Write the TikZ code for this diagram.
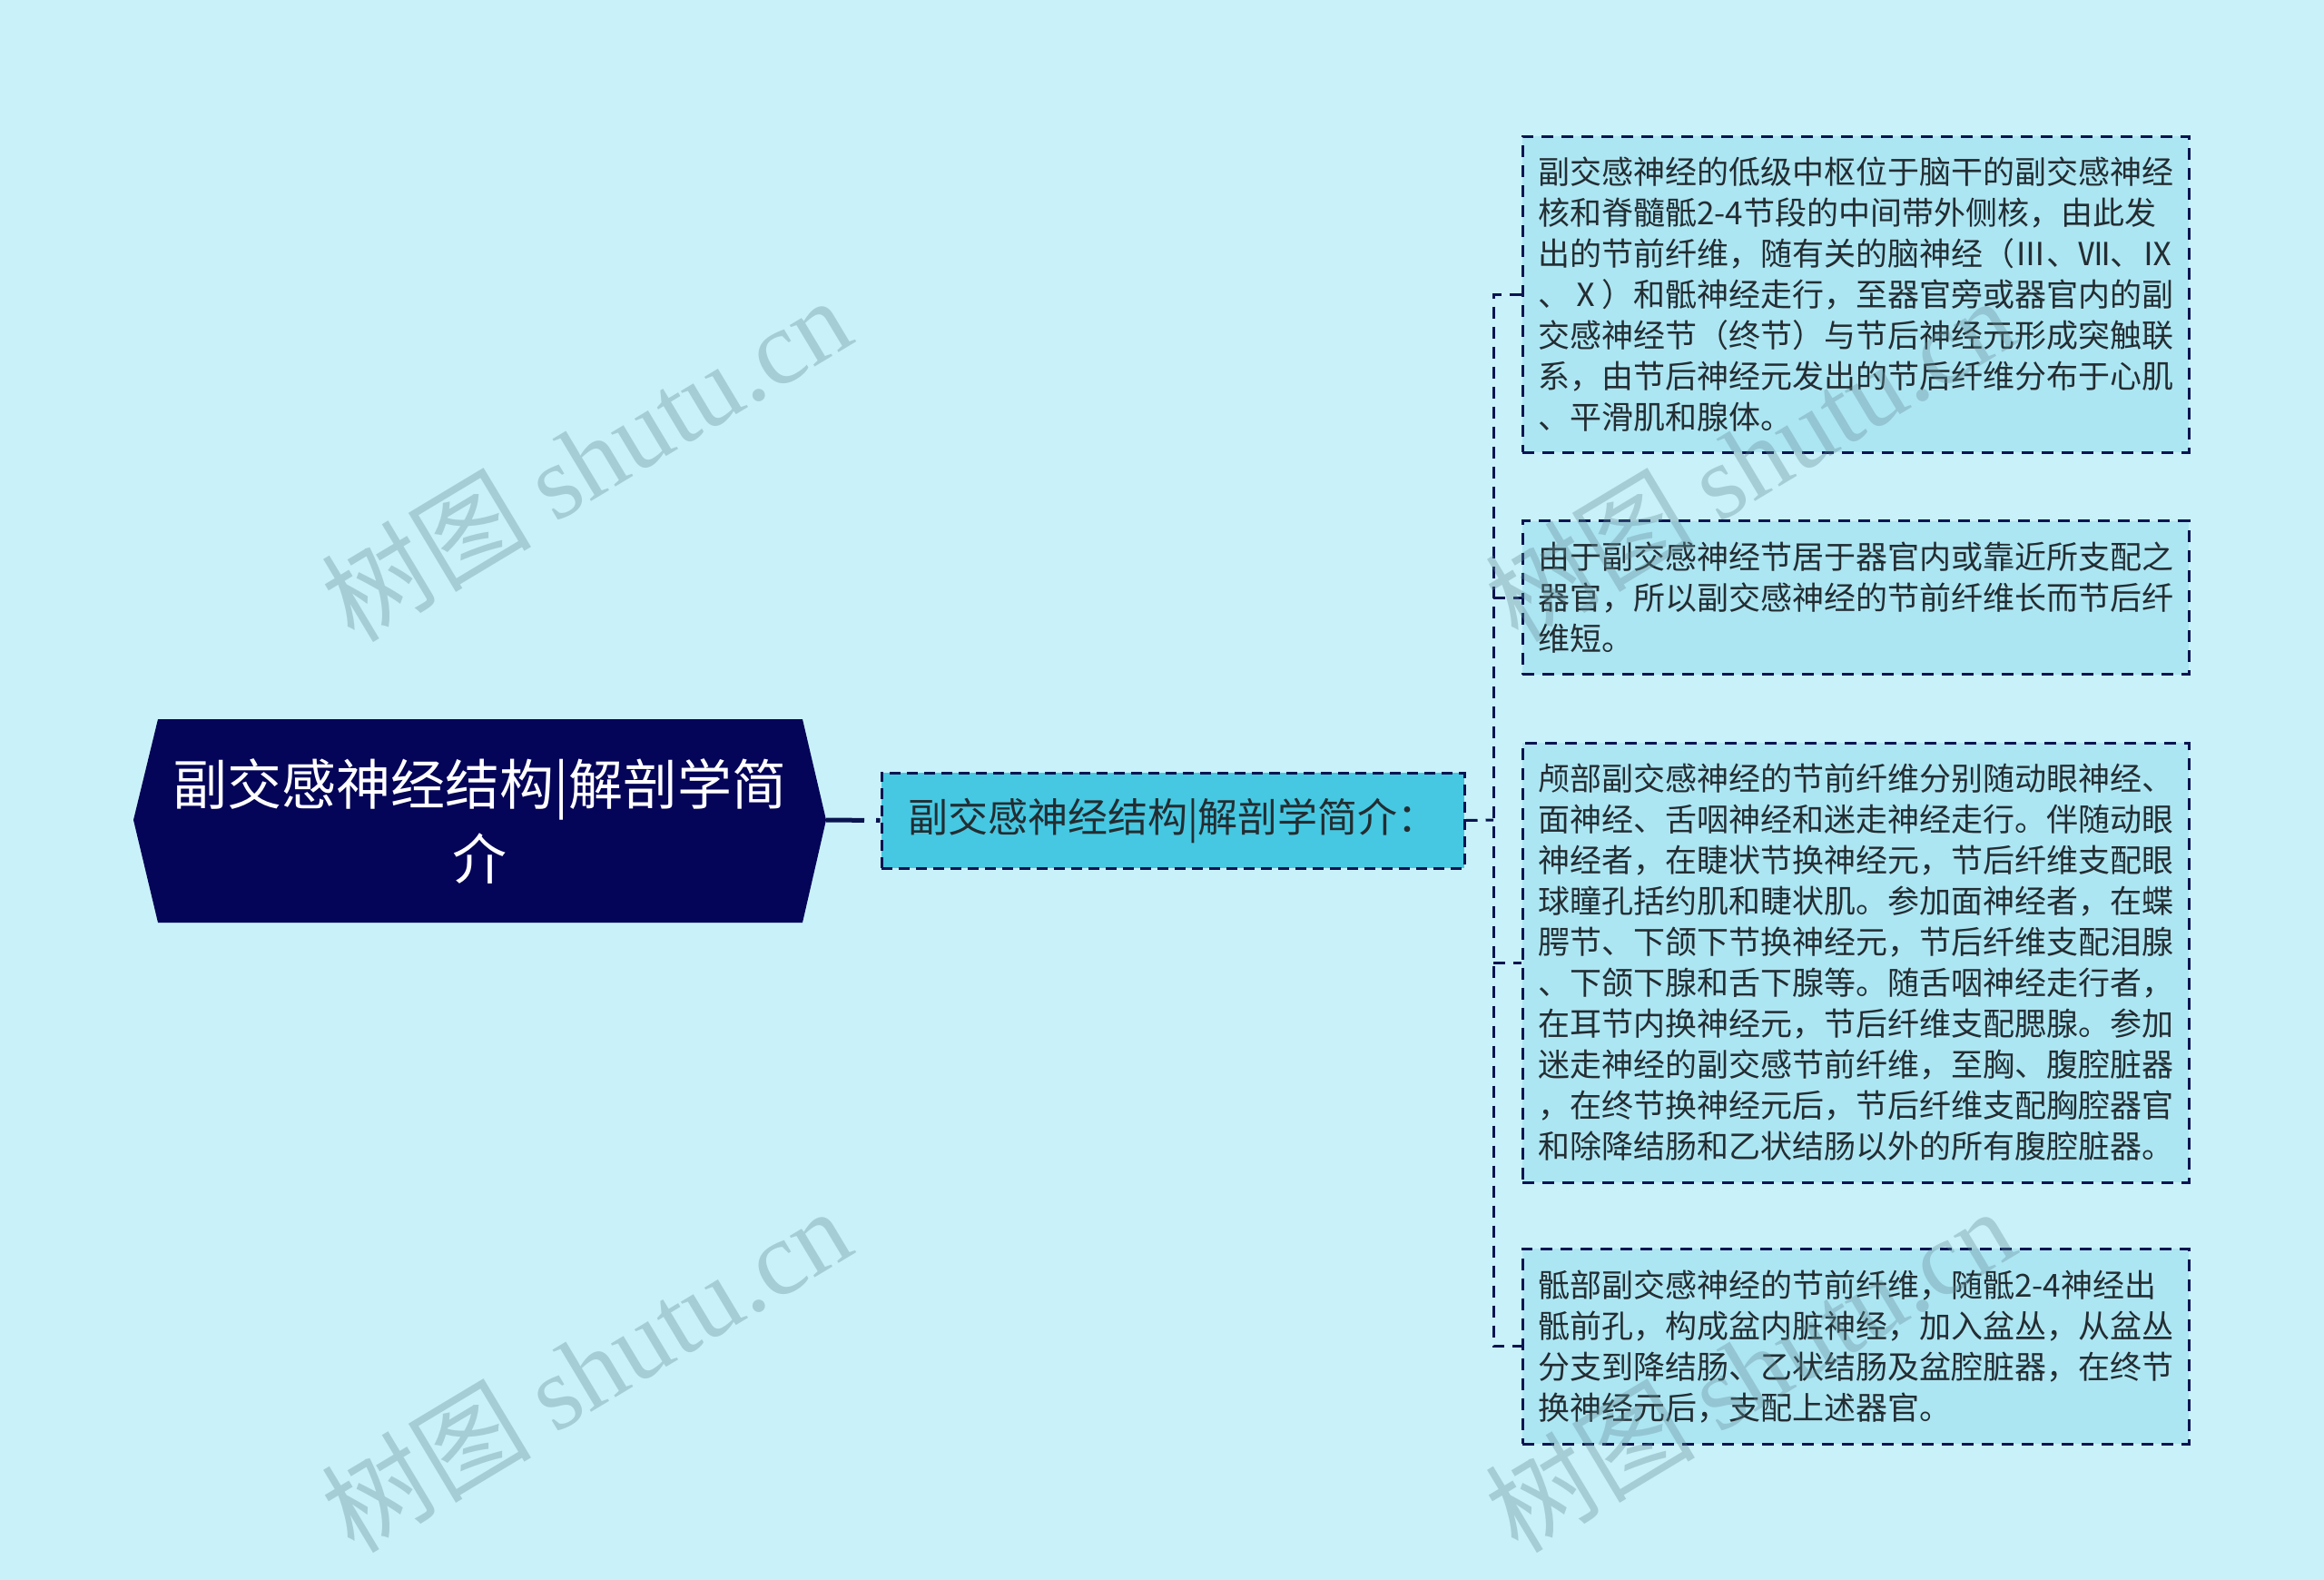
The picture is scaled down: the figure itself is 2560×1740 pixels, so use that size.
\documentclass[tikz,border=0pt]{standalone}
\usepackage{fontspec}
\setmainfont{Noto Sans CJK SC}
\newfontfamily\wmlatin{Liberation Serif}
\definecolor{bgc}{RGB}{201,241,249}
\definecolor{rootc}{RGB}{4,4,88}
\definecolor{midc}{RGB}{70,200,226}
\definecolor{leaff}{RGB}{173,230,243}
\definecolor{bordc}{RGB}{10,20,80}
\definecolor{txtc}{RGB}{35,45,50}
\definecolor{wmc}{RGB}{100,140,150}
\begin{document}
\begin{tikzpicture}[x=1pt,y=-1pt,
  leaf/.style={draw=bordc, line width=3pt, dash pattern=on 13pt off 9pt, fill=leaff, text=txtc,
    text width=700pt, inner xsep=17pt, inner ysep=0pt, align=left,
    font=\fontsize{35}{45}\selectfont},
  rootnode/.style={text=white, align=center, inner sep=0pt, font=\fontsize{60}{82}\selectfont},
  midnode/.style={draw=bordc, line width=3pt, dash pattern=on 12pt off 7pt, fill=midc, text=txtc,
    minimum width=642pt, minimum height=105pt, inner sep=0pt, font=\fontsize{44}{52}\selectfont},
  conn/.style={draw=bordc, line width=3pt, dash pattern=on 13pt off 9pt},
  rootline/.style={draw=bordc, line width=5pt, dash pattern=on 42pt off 13pt},
  wm/.style={text=wmc, opacity=0.35, rotate=31, inner sep=0pt}]
\fill[bgc] (0,0) rectangle (2560,1740);
\useasboundingbox (0,0) rectangle (2560,1740);
% root
\fill[rootc] (147,903) -- (174,792) -- (884,792) -- (910,903) -- (884,1016) -- (174,1016) -- cycle;
\node[rootnode] (root) at (528.5,904) {副交感神经结构|解剖学简\\介};
\coordinate (rtip) at (910,903);
% middle
\node[midnode] (mid) at (1292,903.5) {副交感神经结构|解剖学简介：};
% leaves
\node[leaf, minimum height=348pt] (b1) at (2044,324) {副交感神经的低级中枢位于脑干的副交感神经\\核和脊髓骶2-4节段的中间带外侧核，由此发\\出的节前纤维，随有关的脑神经（Ⅲ、Ⅶ、Ⅸ\\、Ⅹ）和骶神经走行，至器官旁或器官内的副\\交感神经节（终节）与节后神经元形成突触联\\系，由节后神经元发出的节后纤维分布于心肌\\、平滑肌和腺体。};
\node[leaf, minimum height=169pt] (b2) at (2044,658) {由于副交感神经节居于器官内或靠近所支配之\\器官，所以副交感神经的节前纤维长而节后纤\\维短。};
\node[leaf, minimum height=484pt] (b3) at (2044,1060) {颅部副交感神经的节前纤维分别随动眼神经、\\面神经、舌咽神经和迷走神经走行。伴随动眼\\神经者，在睫状节换神经元，节后纤维支配眼\\球瞳孔括约肌和睫状肌。参加面神经者，在蝶\\腭节、下颌下节换神经元，节后纤维支配泪腺\\、下颌下腺和舌下腺等。随舌咽神经走行者，\\在耳节内换神经元，节后纤维支配腮腺。参加\\迷走神经的副交感节前纤维，至胸、腹腔脏器\\，在终节换神经元后，节后纤维支配胸腔器官\\和除降结肠和乙状结肠以外的所有腹腔脏器。};
\node[leaf, minimum height=215pt] (b4) at (2044,1482.5) {骶部副交感神经的节前纤维，随骶2-4神经出\\骶前孔，构成盆内脏神经，加入盆丛，从盆丛\\分支到降结肠、乙状结肠及盆腔脏器，在终节\\换神经元后，支配上述器官。};
% connectors
\coordinate (bus) at (1645,903);
\draw[rootline] (rtip) -- (mid.west);
\draw[conn] (mid.east) -- (bus);
\draw[conn] (b1.west) -| (bus) |- (b4.west);
\draw[conn] (bus |- b2.west) -- (b2.west);
\draw[conn] (bus |- b3.west) -- (b3.west);
% watermarks
\node[wm] (wm1) at (645,505) {\fontsize{116}{116}\selectfont 树图 {\wmlatin shutu.cn}};
\node[wm] (wm2) at (645,1508) {\fontsize{116}{116}\selectfont 树图 {\wmlatin shutu.cn}};
\node[wm] (wm3) at (1927,505) {\fontsize{116}{116}\selectfont 树图 {\wmlatin shutu.cn}};
\node[wm] (wm4) at (1927,1508) {\fontsize{116}{116}\selectfont 树图 {\wmlatin shutu.cn}};
\end{tikzpicture}
\end{document}
